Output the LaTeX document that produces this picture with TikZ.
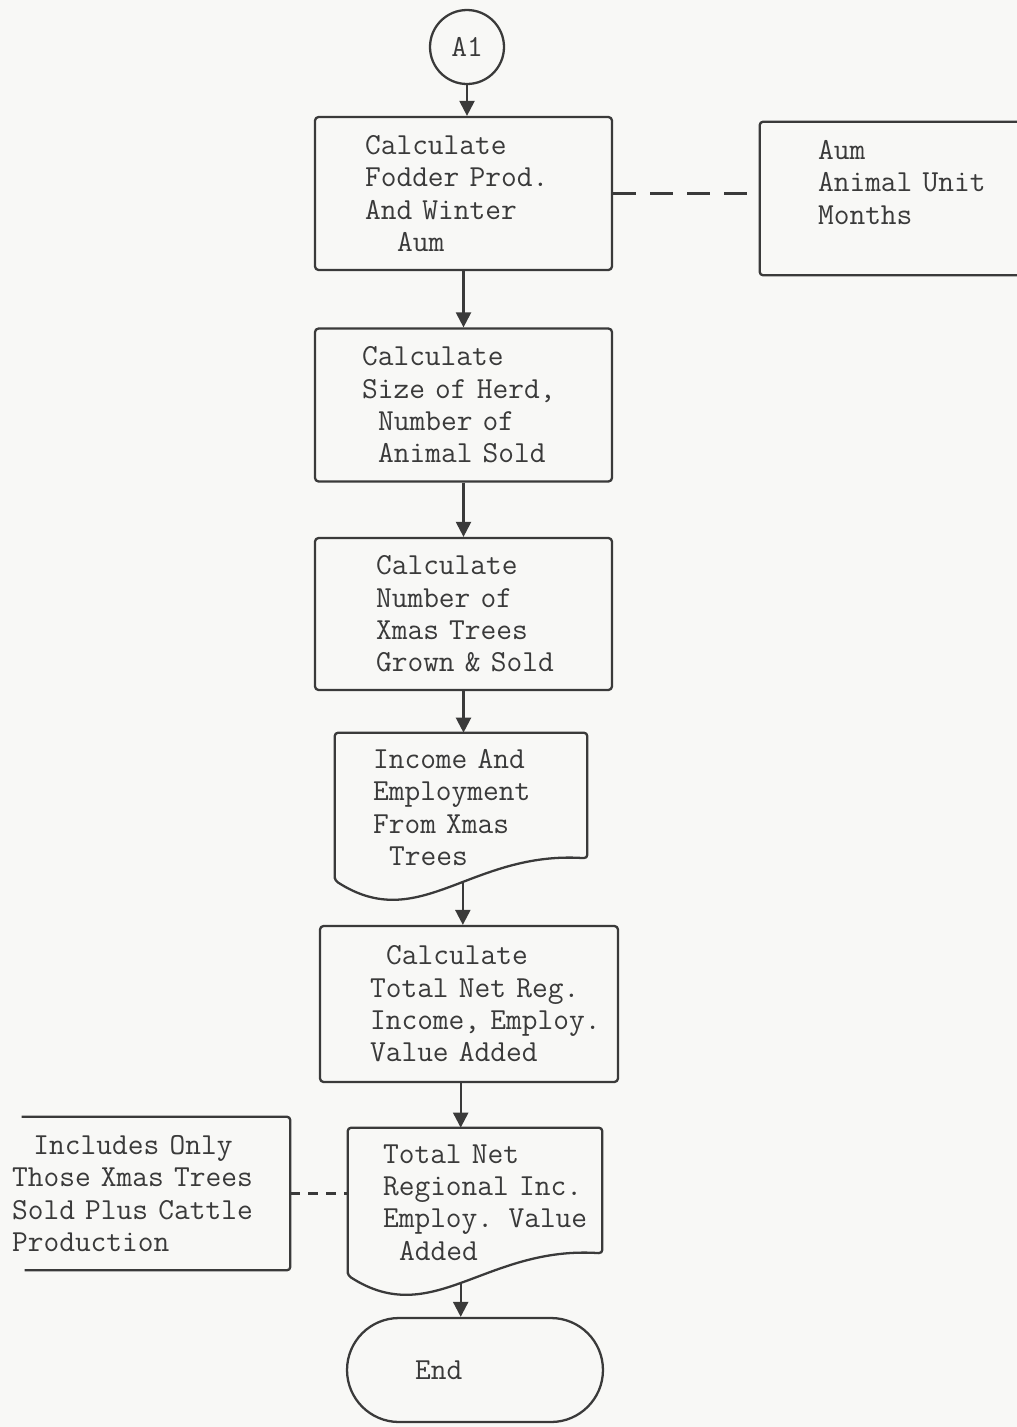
\documentclass[tikz,border=0pt]{standalone}
\usetikzlibrary{calc, arrows.meta, shapes.misc}
\definecolor{ink}{RGB}{58,58,58}
\definecolor{paper}{RGB}{248,248,246}
\newcommand{\pad}{\hspace*{0.525em}}
% document outline: node name, coordinate on the wave, its position
\newcommand{\docwave}[3]{%
    \draw[inkline, rounded corners=2pt] ($(#1.south west)+(0,-2)$) -- (#1.north west) -- (#1.north east)
        -- ($(#1.south east)+(0,-24)$)
        .. controls ($(#1.south east)+(-117,-32)$) and ($(#1.south west)+(85,53)$) .. ($(#1.south west)+(0,-2)$)
        coordinate[pos=#3] (#2) -- cycle;}
\tikzset{
    inkline/.style={draw=ink, line width=1.3pt, line join=round},
    arr/.style={inkline, -{Triangle[length=3mm, width=3mm]}},
    dashlink/.style={inkline, dash pattern=on 4.6mm off 2.8mm},
    box text/.style={font=\fontsize{17.4}{18.4}\selectfont\ttfamily, text=ink, align=left, inner sep=0pt},
    procbox/.style={box text, inkline, rounded corners=2pt, rectangle},
    termbox/.style={box text, inkline, rounded rectangle},
    docbox/.style={box text, rectangle},
    notebox/.style={box text, rectangle},
    common settings/.style={x=0.02cm, y=-0.02cm}
}

\begin{document}
\begin{tikzpicture}[common settings]

    \fill[paper] (0,0) rectangle (1017,1427);
    \useasboundingbox (0,0) rectangle (1017,1427);

    % Main column
    \node[procbox, circle, minimum size=1.48cm] (a1) at (467,47) {A1};

    \node[procbox, minimum width=5.94cm, minimum height=3.06cm, text width=3.94cm] (fodder) at (463.5,193.5)
        {Calculate\\Fodder Prod.\\And Winter\\\pad\pad Aum};

    \node[procbox, minimum width=5.94cm, minimum height=3.06cm, text width=4.06cm] (herd) at (463.5,405)
        {Calculate\\\mbox{Size of Herd,}\\\pad Number of\\\pad Animal Sold};

    \node[procbox, minimum width=5.94cm, minimum height=3.04cm, text width=3.50cm] (trees) at (463.5,614)
        {Calculate\\Number of\\Xmas Trees\\\mbox{Grown \& Sold}};

    \node[docbox, minimum width=5.04cm, minimum height=2.98cm, text width=3.52cm] (inc) at (461,807.5)
        {Income And\\Employment\\From Xmas\\\pad Trees};
    \docwave{inc}{incb}{0.44}

    \node[procbox, minimum width=5.96cm, minimum height=3.12cm, text width=3.96cm] (tot) at (469,1004)
        {\pad Calculate\\\mbox{Total Net Reg.}\\\mbox{Income, Employ.}\\Value Added};

    \node[docbox, minimum width=5.08cm, minimum height=2.98cm, text width=3.68cm] (net) at (475,1202.5)
        {Total Net\\\mbox{Regional Inc.}\\\mbox{Employ. Value}\\\pad Added};
    \docwave{net}{netb}{0.51}

    \node[termbox, minimum width=5.12cm, minimum height=2.08cm, text width=2.40cm] (end) at (475,1370) {End};

    % Side notes
    \node[notebox, minimum width=5.14cm, minimum height=3.06cm, text width=2.82cm] (aum) at (888.5,198.5)
        {Aum\\\mbox{Animal Unit}\\Months\\\mbox{}};
    \draw[inkline, rounded corners=2pt] (aum.north east) -- (aum.north west) -- (aum.south west) -- (aum.south east);

    \node[notebox, minimum width=5.56cm, minimum height=3.06cm, text width=5.56cm] (incl) at (151,1193.5)
        {\hspace*{0.7em}Includes Only\\Those Xmas Trees\\Sold Plus Cattle\\Production};
    \draw[inkline, rounded corners=2pt] ($(incl.north west)+(10,0)$) -- (incl.north east) -- (incl.south east) -- ($(incl.south west)+(13,0)$);

    % Flow arrows
    \draw[arr] (a1.south) -- (a1.south |- fodder.north);
    \draw[arr] (fodder.south) -- (herd.north);
    \draw[arr] (herd.south) -- (trees.north);
    \draw[arr] (trees.south) -- (trees.south |- inc.north);
    \draw[arr] (incb) -- (incb |- tot.north);
    \draw[arr] (tot.south -| netb) -- (net.north -| netb);
    \draw[arr] (netb) -- (netb |- end.north);

    % Dashed links to notes
    \draw[dashlink] (fodder.east) -- (fodder.east -| aum.west);
    \draw[dashlink, dash pattern=on 2mm off 1.6mm] (incl.east) -- (incl.east -| net.west);

\end{tikzpicture}
\end{document}
